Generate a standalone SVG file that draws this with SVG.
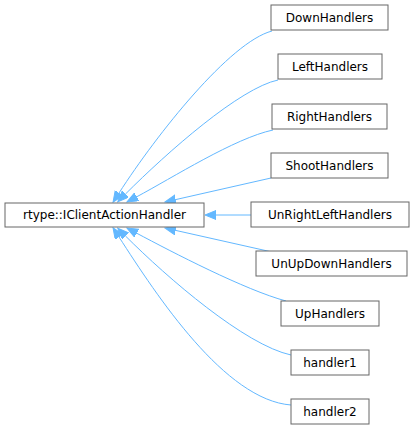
<svg xmlns="http://www.w3.org/2000/svg" width="413" height="431" viewBox="0 0 413 431">
<style>
.node rect{fill:#ffffff;stroke:#666666;stroke-width:1}
.node text{font-family:"DejaVu Sans",sans-serif;font-size:12px;fill:#000000;text-anchor:middle}
.edge{fill:none;stroke:#63b8ff;stroke-width:1;marker-end:url(#ah)}
</style>
<defs>
<marker id="ah" markerUnits="userSpaceOnUse" markerWidth="12" markerHeight="10" refX="0" refY="4.5" orient="auto" viewBox="0 0 12 10">
<path d="M0,0 L11,4.5 L0,9 z" fill="#63b8ff" stroke="#63b8ff" stroke-width="1"/>
</marker>
</defs>
<rect width="413" height="431" fill="#ffffff"/>
<g id="edges">
<path class="edge" d="M272,31 C230,42 157,134 119,193"/>
<path class="edge" d="M278,80 C240,88 167.5,152 125.5,194"/>
<path class="edge" d="M273,130 C235,138 172,178 136.7,196.8"/>
<path class="edge" d="M271,178 L175.7,199.6"/>
<path class="edge" d="M251,215 L216,215"/>
<path class="edge" d="M272,252 L175.7,230.4"/>
<path class="edge" d="M286,301 C245,290 172,252 136.7,233.2"/>
<path class="edge" d="M291,355 C245,345 167.5,278 125.5,236"/>
<path class="edge" d="M291,405 C225,400 157,296 119,237"/>
</g>
<g id="base" class="node"><rect x="5" y="203" width="199" height="24"/><text x="104.5" y="219">rtype::IClientActionHandler</text></g>
<g id="DownHandlers" class="node"><rect x="271" y="5" width="117" height="25"/><text x="329.5" y="21.5">DownHandlers</text></g>
<g id="LeftHandlers" class="node"><rect x="278" y="54" width="104" height="25"/><text x="330" y="70.5">LeftHandlers</text></g>
<g id="RightHandlers" class="node"><rect x="272" y="104" width="115" height="25"/><text x="329.5" y="120.5">RightHandlers</text></g>
<g id="ShootHandlers" class="node"><rect x="271" y="153" width="117" height="25"/><text x="329.5" y="169.5">ShootHandlers</text></g>
<g id="UnRightLeftHandlers" class="node"><rect x="251" y="202" width="158" height="25"/><text x="330" y="218.5">UnRightLeftHandlers</text></g>
<g id="UnUpDownHandlers" class="node"><rect x="256" y="251" width="151" height="25"/><text x="331.5" y="267.5">UnUpDownHandlers</text></g>
<g id="UpHandlers" class="node"><rect x="281" y="301" width="98" height="25"/><text x="330" y="317.5">UpHandlers</text></g>
<g id="handler1" class="node"><rect x="291" y="350" width="78" height="25"/><text x="330" y="366.5">handler1</text></g>
<g id="handler2" class="node"><rect x="291" y="399" width="78" height="25"/><text x="330" y="415.5">handler2</text></g>
</svg>
